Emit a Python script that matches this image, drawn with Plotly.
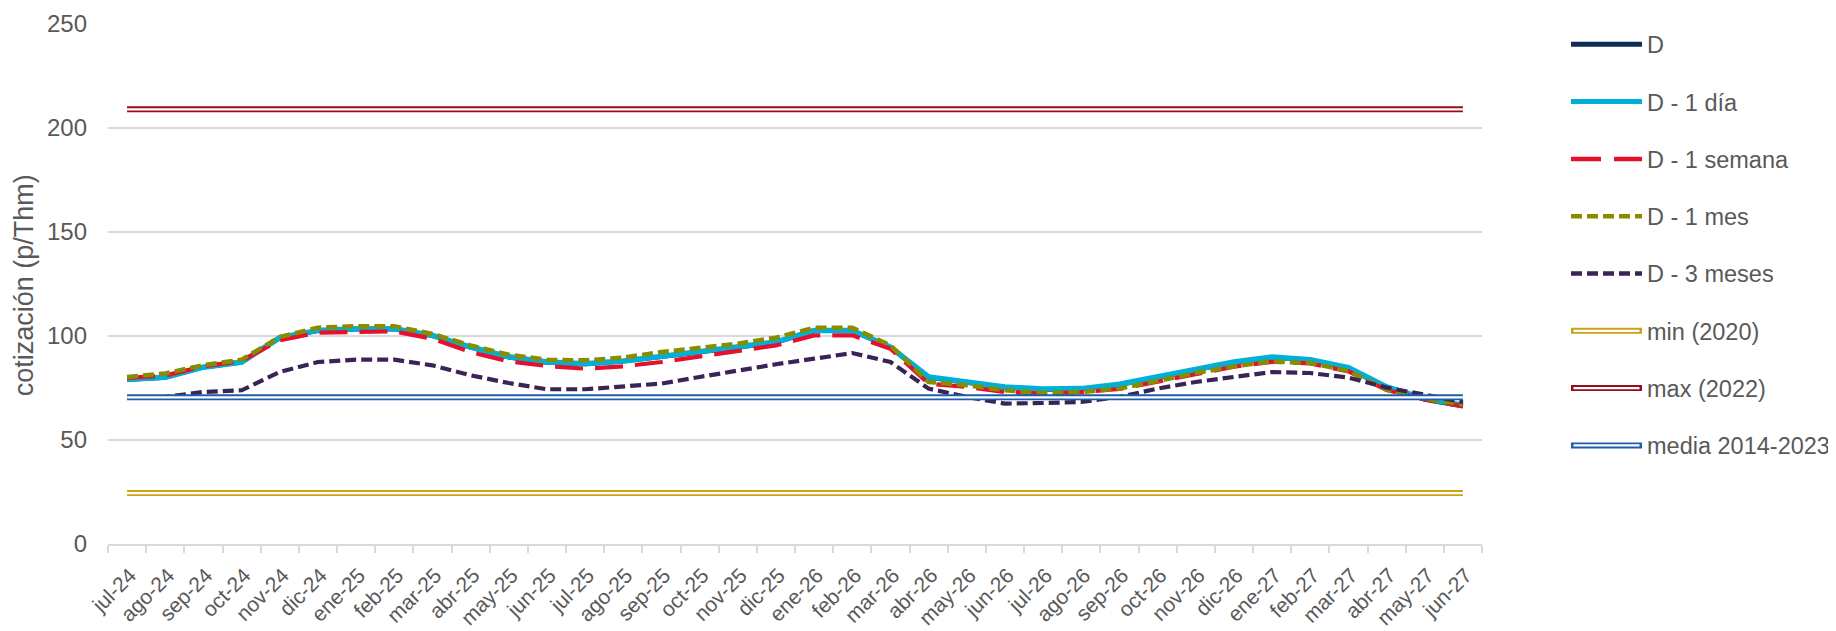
import plotly.graph_objects as go

months = ["jul-24","ago-24","sep-24","oct-24","nov-24","dic-24","ene-25","feb-25","mar-25","abr-25",
          "may-25","jun-25","jul-25","ago-25","sep-25","oct-25","nov-25","dic-25","ene-26","feb-26",
          "mar-26","abr-26","may-26","jun-26","jul-26","ago-26","sep-26","oct-26","nov-26","dic-26",
          "ene-27","feb-27","mar-27","abr-27","may-27","jun-27"]

d_vals = [79.0, 80.0, 85.0, 87.4, 99.0, 102.5, 103.3, 103.3, 100.1, 94.5,
          89.8, 87.3, 86.5, 87.8, 90.0, 92.1, 94.5, 96.9, 102.5, 102.5,
          94.5, 80.0, 77.6, 75.2, 74.2, 74.4, 76.5, 80.0, 84.0, 87.2,
          89.6, 88.3, 84.4, 75.0, 69.4, 66.2]
d1dia = [79.2, 80.2, 85.0, 87.5, 99.2, 102.7, 103.5, 103.5, 100.3, 94.7,
         90.0, 87.5, 86.7, 88.0, 90.2, 92.3, 94.7, 97.1, 102.7, 102.7,
         94.7, 80.3, 77.9, 75.5, 74.5, 74.7, 76.8, 80.3, 84.3, 87.5,
         89.9, 88.6, 84.8, 75.5, 69.9, 66.7]
d1sem = [79.8, 81.0, 85.5, 88.0, 98.0, 101.6, 102.0, 102.2, 98.7, 92.3,
         87.8, 85.6, 84.3, 85.4, 87.5, 90.2, 93.1, 95.5, 100.3, 100.3,
         93.9, 77.1, 75.5, 73.1, 72.3, 73.0, 74.5, 78.2, 82.0, 85.2,
         87.6, 86.8, 83.0, 74.0, 69.6, 66.2]
d1mes = [80.3, 82.0, 86.0, 88.6, 99.5, 104.0, 104.7, 104.7, 101.0, 95.5,
         91.0, 88.6, 88.3, 89.6, 92.3, 94.4, 96.3, 99.2, 104.0, 104.0,
         95.5, 77.9, 76.3, 73.9, 72.6, 73.1, 74.7, 78.4, 82.2, 85.4,
         87.8, 87.0, 83.2, 74.2, 69.9, 67.2]
d3mes = [70.4, 70.7, 73.1, 73.9, 82.7, 87.5, 88.6, 88.6, 85.9, 81.1,
         77.4, 74.4, 74.4, 75.5, 77.1, 80.3, 83.5, 86.4, 89.1, 91.8,
         87.5, 74.7, 70.7, 67.5, 67.8, 68.3, 70.7, 74.7, 77.9, 80.3,
         82.7, 82.2, 80.0, 75.2, 71.5, 68.3]
min_2020 = 24.5
max_2022 = 209.0
media_2014_2023 = 70.5

y_ticks = [0, 50, 100, 150, 200, 250]

FONT = "Arial, Liberation Sans, sans-serif"
GREY = "#595959"
OFF = 8  # page body margin
W, H = 1836 - OFF, 631 - OFF
# plot area in screen pixels
SX0, SX1, SY0, SY1 = 108, 1482, 23.7, 543.7
L = SX0 - OFF
T = SY0 - OFF
pw = SX1 - SX0
ph = SY1 - SY0
R = W - L - pw
B = H - T - ph

fig = go.Figure()

def add_line(name, y, color, width, dash="solid"):
    fig.add_trace(go.Scatter(x=months, y=y, mode="lines", name=name,
                             line=dict(color=color, width=width, dash=dash),
                             showlegend=False))

def add_double(name, val, color):
    yy = [val] * len(months)
    fig.add_trace(go.Scatter(x=months, y=yy, mode="lines", name=name,
                             line=dict(color=color, width=6), showlegend=False))
    fig.add_trace(go.Scatter(x=months, y=yy, mode="lines", name=name,
                             line=dict(color="white", width=2.3), showlegend=False,
                             hoverinfo="skip"))

add_line("D", d_vals, "#0E2D57", 4.5)
add_line("D - 1 día", d1dia, "#00B0D8", 5.5)
add_line("D - 1 semana", d1sem, "#E5102B", 4.2, "28px,12px")
add_line("D - 1 mes", d1mes, "#878C00", 4.5, "11px,5px")
add_line("D - 3 meses", d3mes, "#3A2456", 4.2, "11px,5px")
add_double("min (2020)", min_2020, "#C9A516")
add_double("max (2022)", max_2022, "#9B0B1E")
add_double("media 2014-2023", media_2014_2023, "#1F5DAA")

legend_items = [
    ("D", "#0E2D57", "solid", False),
    ("D - 1 día", "#00B0D8", "solid", False),
    ("D - 1 semana", "#E5102B", "30px,13px", False),
    ("D - 1 mes", "#878C00", "11px,5px", False),
    ("D - 3 meses", "#3A2456", "11px,5px", False),
    ("min (2020)", "#C9A516", "solid", True),
    ("max (2022)", "#9B0B1E", "solid", True),
    ("media 2014-2023", "#1F5DAA", "solid", True),
]
def px_x(sx):
    return (sx - OFF - L) / pw
def px_y(sy):
    return (T + ph - (sy - OFF)) / ph

shapes = []
annotations = []
for i, (nm, col, dash, dbl) in enumerate(legend_items):
    yc = 44 + 57.3 * i
    x0, x1 = 1571, 1642
    if dbl:
        shapes.append(dict(type="line", xref="paper", yref="paper", x0=px_x(x0), x1=px_x(x1),
                           y0=px_y(yc), y1=px_y(yc), line=dict(color=col, width=6)))
        shapes.append(dict(type="line", xref="paper", yref="paper", x0=px_x(x0 + 2.5), x1=px_x(x1 - 2.5),
                           y0=px_y(yc), y1=px_y(yc), line=dict(color="white", width=2.3)))
    else:
        shapes.append(dict(type="line", xref="paper", yref="paper", x0=px_x(x0), x1=px_x(x1),
                           y0=px_y(yc), y1=px_y(yc),
                           line=dict(color=col, width=5 if i < 2 else 4.5, dash=dash)))
    annotations.append(dict(xref="paper", yref="paper", x=px_x(1645), y=px_y(yc + 1),
                            text=nm, showarrow=False, xanchor="left", yanchor="middle",
                            font=dict(family=FONT, size=23.5, color=GREY)))

annotations.append(dict(xref="paper", yref="paper", x=px_x(24), y=px_y(285),
                        text="cotización (p/Thm)", showarrow=False, textangle=-90,
                        xanchor="center", yanchor="middle",
                        font=dict(family=FONT, size=27, color=GREY)))

fig.update_layout(
    width=W, height=H,
    margin=dict(l=L, r=R, t=T, b=B),
    paper_bgcolor="white", plot_bgcolor="white",
    showlegend=False,
    font=dict(family=FONT, size=24, color=GREY),
    shapes=shapes, annotations=annotations,
    xaxis=dict(type="category", categoryorder="array", categoryarray=months,
               range=[-0.5, len(months) - 0.5],
               showline=True, linecolor="#D9D9D9", linewidth=1.5,
               ticks="outside", tickson="boundaries", ticklen=7, tickcolor="#D9D9D9", tickwidth=1.5,
               tickangle=-45, ticklabelstandoff=9, ticklabelshift=3,
               tickfont=dict(family=FONT, size=21, color=GREY),
               showgrid=False, zeroline=False, automargin=False),
    yaxis=dict(range=[0, 250], tickvals=y_ticks, showgrid=True, gridcolor="#D9D9D9", gridwidth=1.5,
               zeroline=False, showline=False, ticks="", ticklabelstandoff=20,
               tickfont=dict(family=FONT, size=24, color=GREY), automargin=False),
)

fig.write_html("out.html")
